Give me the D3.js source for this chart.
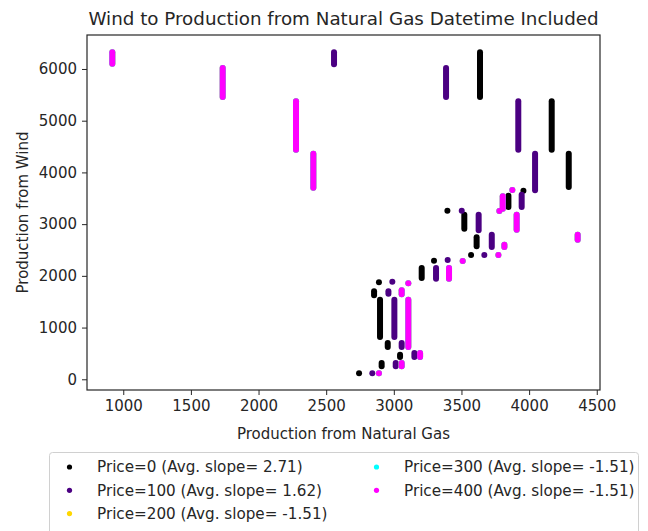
<!DOCTYPE html>
<html>
<head>
<meta charset="utf-8">
<script src="https://cdn.jsdelivr.net/npm/d3@7"></script>
<style>
  body { margin: 0; background: #fff; }
  text { font-family: "DejaVu Sans", sans-serif; fill: #262626; }
</style>
</head>
<body>
<script>
// runs of points: [gas, windFrom, windTo] (a single dot has windFrom == windTo)
const price0Runs = [
  [3637, 5458, 6322], [4167, 4440, 5374], [4293, 3718, 4363],
  [3958, 3647, 3647], [3847, 3331, 3550], [3396, 3260, 3260],
  [3521, 2912, 3183], [3612, 2571, 2745], [3571, 2403, 2403],
  [3297, 2294, 2294], [3206, 1959, 2152], [2890, 1875, 1875],
  [2854, 1623, 1701], [2898, 818, 1540], [2955, 624, 702],
  [3046, 431, 476], [2910, 251, 315], [2743, 115, 115]
];
const price100Runs = [
  [2558, 6090, 6322], [3386, 5458, 6019], [3920, 4440, 5374],
  [4044, 3654, 4363], [3945, 3331, 3570], [3502, 3260, 3260],
  [3627, 2880, 3183], [3724, 2558, 2796], [3669, 2403, 2403],
  [3398, 2307, 2307], [3312, 1946, 2152], [2989, 1888, 1888],
  [2960, 1656, 1701], [3004, 818, 1540], [3058, 624, 702],
  [3152, 431, 508], [3014, 251, 315], [2841, 115, 115]
];
const price400Runs = [
  [919, 6103, 6322], [1735, 5458, 6019], [2277, 4440, 5374],
  [2405, 3705, 4363], [3876, 3660, 3660], [3805, 3299, 3538],
  [3780, 3254, 3254], [3908, 2893, 3183], [3817, 2558, 2603],
  [3773, 2403, 2403], [4359, 2700, 2796], [3509, 2287, 2287],
  [3408, 1946, 2152], [3107, 1855, 1855], [3058, 1643, 1720],
  [3107, 624, 1540], [3194, 431, 508], [3058, 251, 315],
  [2890, 115, 115]
];
// 200 and 300 share the 400 values (same slope), hidden under it
const price200Runs = price400Runs;
const price300Runs = price400Runs;

const seriesNames = [
  'Price=0 (Avg. slope= 2.71)',
  'Price=100 (Avg. slope= 1.62)',
  'Price=200 (Avg. slope= -1.51)',
  'Price=300 (Avg. slope= -1.51)',
  'Price=400 (Avg. slope= -1.51)'
];
const seriesColors = ['#000000', '#4b0082', '#ffd700', '#00ffff', '#ff00ff'];
const seriesRuns = [price0Runs, price100Runs, price200Runs, price300Runs, price400Runs];

const xTicks = [1000, 1500, 2000, 2500, 3000, 3500, 4000, 4500];
const yTicks = [0, 1000, 2000, 3000, 4000, 5000, 6000];

const margin = { top: 35, left: 87 };
const width = 513, height = 355;

const svg = d3.select('body').append('svg')
  .attr('width', 648)
  .attr('height', 531);

const x = d3.scaleLinear().domain([732, 4524]).range([0, width]);
const y = d3.scaleLinear().domain([-207, 6657]).range([height, 0]);

const g = svg.append('g')
  .attr('transform', `translate(${margin.left},${margin.top})`);

// points
seriesRuns.forEach((runs, i) => {
  g.append('g').selectAll('line')
    .data(runs)
    .enter().append('line')
    .attr('x1', d => x(d[0]))
    .attr('x2', d => x(d[0]))
    .attr('y1', d => y(d[1]))
    .attr('y2', d => y(d[2]))
    .attr('stroke', seriesColors[i])
    .attr('stroke-width', 6)
    .attr('stroke-linecap', 'round');
});

// axes
const fmt = d3.format('d');
const xAxis = g.append('g')
  .attr('transform', `translate(0,${height})`)
  .call(d3.axisBottom(x).tickValues(xTicks).tickFormat(fmt).tickSize(5).tickPadding(5).tickSizeOuter(0));
const yAxis = g.append('g')
  .call(d3.axisLeft(y).tickValues(yTicks).tickFormat(fmt).tickSize(5).tickPadding(5).tickSizeOuter(0));
[xAxis, yAxis].forEach(a => {
  a.select('.domain').remove();
  a.selectAll('line').attr('stroke', '#262626');
  a.selectAll('text').attr('font-size', 15).attr('font-family', null).attr('fill', null);
});

g.append('rect')
  .attr('width', width)
  .attr('height', height)
  .attr('fill', 'none')
  .attr('stroke', '#262626')
  .attr('stroke-width', 1.2);

// titles
svg.append('text')
  .attr('x', margin.left + width / 2)
  .attr('y', 25)
  .attr('text-anchor', 'middle')
  .attr('font-size', 18.3)
  .text('Wind to Production from Natural Gas Datetime Included');

svg.append('text')
  .attr('x', margin.left + width / 2)
  .attr('y', 439)
  .attr('text-anchor', 'middle')
  .attr('font-size', 15)
  .text('Production from Natural Gas');

svg.append('text')
  .attr('transform', `translate(28,${margin.top + height / 2}) rotate(-90)`)
  .attr('text-anchor', 'middle')
  .attr('font-size', 15)
  .text('Production from Wind');

// legend
const legend = svg.append('g');
legend.append('rect')
  .attr('x', 49.5)
  .attr('y', 452.5)
  .attr('width', 589)
  .attr('height', 100)
  .attr('rx', 3)
  .attr('fill', '#fff')
  .attr('stroke', '#d0d0d0');

seriesNames.forEach((name, i) => {
  const col = i < 3 ? 0 : 1;
  const row = i < 3 ? i : i - 3;
  const item = legend.append('g')
    .attr('transform', `translate(${col ? 376.5 : 69.5},${467 + row * 23.3})`);
  item.append('circle')
    .attr('r', 2.6)
    .attr('fill', seriesColors[i]);
  item.append('text')
    .attr('x', 27.5)
    .attr('dy', '0.35em')
    .attr('font-size', 15.2)
    .text(name);
});
</script>
</body>
</html>
